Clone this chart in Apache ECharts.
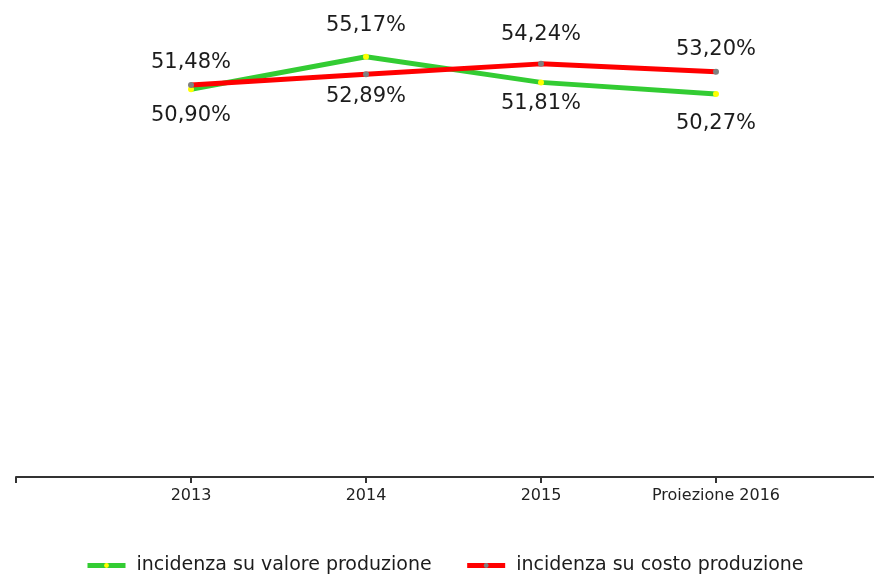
<!DOCTYPE html>
<html>
<head>
<meta charset="utf-8">
<script src="https://cdn.jsdelivr.net/npm/echarts@6/dist/echarts.min.js"></script>
<style>
  html, body { margin: 0; padding: 0; background: #fff; }
  #main { width: 874px; height: 576px; }
</style>
</head>
<body>
<div id="main"></div>
<script>
// categorie (le due vuote servono solo a estendere l'asse)
const categories = ['', '2013', '2014', '2015', 'Proiezione 2016', '']
const valoreProduzione = [null, 50.90, 55.17, 51.81, 50.27, null]
const costoProduzione = [null, 51.48, 52.89, 54.24, 53.20, null]
const seriesNames = ['incidenza su valore produzione', 'incidenza su costo produzione']

// spostamento verticale delle etichette (px, rispetto al punto)
const valoreLabelDy = [0, 26, -31, 21, 29, 0]
const costoLabelDy = [0, -22, 22, -29, -22, 0]

const fmt = (v) => v.toFixed(2).replace('.', ',') + '%'

const buildData = (values, dys) =>
  values.map((v, i) => ({
    value: v,
    label: { offset: [0, dys[i]] }
  }))

const chartDom = document.getElementById('main')
const myChart = echarts.init(chartDom)

const labelStyle = {
  show: true,
  position: 'inside',
  color: '#1c1c1c',
  fontFamily: 'DejaVu Sans',
  fontSize: 21,
  formatter: (p) => fmt(p.value)
}

const option = {
  animation: false,
  grid: {
    left: 16,
    top: 20,
    right: -17,
    bottom: 99,
    outerBoundsMode: 'none',
    containLabel: false
  },
  legend: {
    left: 80,
    top: 551,
    itemWidth: 38,
    itemHeight: 6,
    itemGap: 33,
    lineStyle: { width: 5 },
    textStyle: {
      color: '#1c1c1c',
      fontFamily: 'DejaVu Sans',
      fontSize: 19,
      padding: [0, 0, 0, 6]
    },
    data: seriesNames
  },
  xAxis: {
    type: 'category',
    boundaryGap: false,
    data: categories,
    axisLine: { lineStyle: { color: '#333', width: 2 } },
    axisTick: { show: true, length: 6, lineStyle: { color: '#333', width: 2 } },
    axisLabel: {
      color: '#222',
      fontFamily: 'DejaVu Sans',
      fontSize: 16,
      margin: 11,
      interval: 0
    },
    splitLine: { show: false }
  },
  yAxis: {
    type: 'value',
    min: 0,
    max: 60,
    show: false,
    splitLine: { show: false }
  },
  series: [
    {
      name: seriesNames[0],
      type: 'line',
      data: buildData(valoreProduzione, valoreLabelDy),
      symbol: 'circle',
      symbolSize: 6,
      showAllSymbol: true,
      lineStyle: { color: '#33cc33', width: 5 },
      itemStyle: { color: '#ffff00' },
      label: labelStyle,
      z: 2
    },
    {
      name: seriesNames[1],
      type: 'line',
      data: buildData(costoProduzione, costoLabelDy),
      symbol: 'circle',
      symbolSize: 6,
      showAllSymbol: true,
      lineStyle: { color: '#ff0000', width: 5 },
      itemStyle: { color: '#808080' },
      label: labelStyle,
      z: 3
    }
  ]
}
option && myChart.setOption(option)
</script>
</body>
</html>
